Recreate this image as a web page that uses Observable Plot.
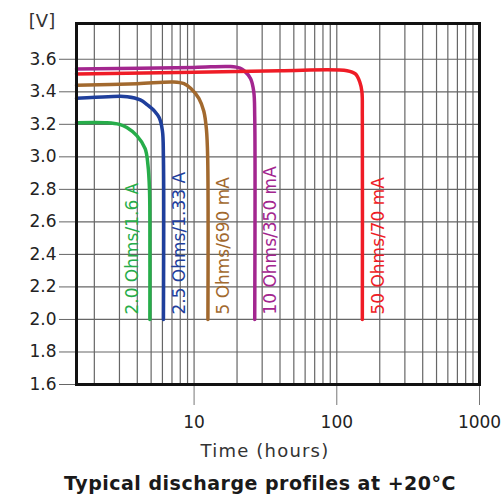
<!DOCTYPE html>
<html>
<head>
<meta charset="utf-8">
<script src="https://cdn.jsdelivr.net/npm/d3@7"></script>
<script src="https://cdn.jsdelivr.net/npm/@observablehq/plot@0.6"></script>
<style>
  html, body { margin: 0; padding: 0; background: #fff; }
  #wrap { position: relative; width: 503px; height: 495px; overflow: hidden; font-family: "DejaVu Sans", sans-serif; }
  .lbl { position: absolute; white-space: nowrap; transform: translate(-50%, -50%); }
</style>
</head>
<body>
<div id="wrap">
  <div id="chart"></div>
  <div class="lbl" style="left:42px; top:20px; font-size:18px; color:#333;">[V]</div>
  <div class="lbl" style="left:265px; top:450px; font-size:18px; letter-spacing:1.2px; color:#333;">Time (hours)</div>
  <div class="lbl" style="left:260px; top:483px; font-size:19px; letter-spacing:0.5px; font-weight:bold; color:#1a1a1a;">Typical discharge profiles at +20°C</div>
</div>
<script>
// Series: discharge curves (time in hours, voltage in V)
const greenTime = [1.5, 2.45, 3.0, 3.38, 3.97, 4.54, 4.75, 4.87, 4.9, 4.9];
const greenVolt = [3.21, 3.21, 3.20, 3.18, 3.13, 3.05, 2.95, 2.80, 2.60, 2.00];

const blueTime = [1.5, 2.5, 3.4, 4.2, 4.7, 5.3, 5.7, 6.0, 6.1, 6.1];
const blueVolt = [3.36, 3.37, 3.37, 3.35, 3.32, 3.28, 3.24, 3.16, 3.00, 2.00];

const brownTime = [1.5, 4, 7.2, 8.5, 9.5, 10.8, 11.7, 12.2, 12.45, 12.5];
const brownVolt = [3.44, 3.45, 3.46, 3.45, 3.42, 3.36, 3.28, 3.17, 3.00, 2.00];

const magentaTime = [1.5, 10, 18, 21, 22.4, 24.9, 26.2, 26.6, 26.6];
const magentaVolt = [3.54, 3.55, 3.555, 3.545, 3.53, 3.48, 3.40, 3.25, 2.00];

const redTime = [1.5, 10, 40, 118, 135, 145, 150, 151, 151];
const redVolt = [3.51, 3.52, 3.53, 3.53, 3.51, 3.46, 3.40, 3.25, 2.00];

const seriesNames = ["2.0 Ohms/1.6 A", "2.5 Ohms/1.33 A", "5 Ohms/690 mA", "10 Ohms/350 mA", "50 Ohms/70 mA"];
const seriesColors = ["#27ad4a", "#1f3f9c", "#a2692e", "#a3268f", "#ef1c26"];
const seriesTimes = [greenTime, blueTime, brownTime, magentaTime, redTime];
const seriesVolts = [greenVolt, blueVolt, brownVolt, magentaVolt, redVolt];

// Label anchor points (time, voltage)
const labelTime = [3.7, 7.85, 16.2, 34.4, 197];
const labelVolt = [2.03, 2.03, 2.03, 2.03, 2.03];

// Axes
const yTicks = [1.6, 1.8, 2.0, 2.2, 2.4, 2.6, 2.8, 3.0, 3.2, 3.4, 3.6];
const xTickLabels = [10, 100, 1000];
const xGrid = [2,3,4,5,6,7,8,9,10,20,30,40,50,60,70,80,90,100,200,300,400,500,600,700,800,900];

const rows = seriesNames.flatMap((name, k) =>
  seriesTimes[k].map((t, i) => ({ name, t, v: seriesVolts[k][i] })));
const labels = seriesNames.map((name, k) => ({ name, t: labelTime[k], v: labelVolt[k] }));

const chart = Plot.plot({
  width: 503,
  height: 495,
  marginLeft: 76,
  marginRight: 24,
  marginTop: 23,
  marginBottom: 111,
  style: { fontFamily: "DejaVu Sans, sans-serif", background: "#fff", overflow: "visible" },
  x: { type: "log", domain: [1.5, 1000] },
  y: { domain: [1.6, 3.82] },
  color: { domain: seriesNames, range: seriesColors },
  marks: [
    Plot.gridX(xGrid, { stroke: "#666", strokeOpacity: 1, strokeWidth: 1.2 }),
    Plot.gridY(yTicks, { stroke: "#666", strokeOpacity: 1, strokeWidth: 1.2 }),
    Plot.axisY(yTicks, { tickSize: 17, tickPadding: 3, tickFormat: d3.format(".1f"), fontSize: 17, stroke: "#666", fill: "#222", label: null }),
    Plot.axisX(xTickLabels, { tickSize: 21, tickPadding: 10, tickFormat: d => String(d), fontSize: 17, stroke: "#777", fill: "#222", label: null }),
    Plot.line(rows, { x: "t", y: "v", z: "name", stroke: "name", strokeWidth: 3.5, curve: "catmull-rom" }),
    Plot.text(labels, { x: "t", y: "v", text: "name", fill: "name", rotate: -90, textAnchor: "start", lineAnchor: "middle", fontSize: 17 }),
    Plot.frame({ stroke: "#111", strokeWidth: 3 })
  ]
});
document.getElementById("chart").appendChild(chart);
</script>
</body>
</html>
